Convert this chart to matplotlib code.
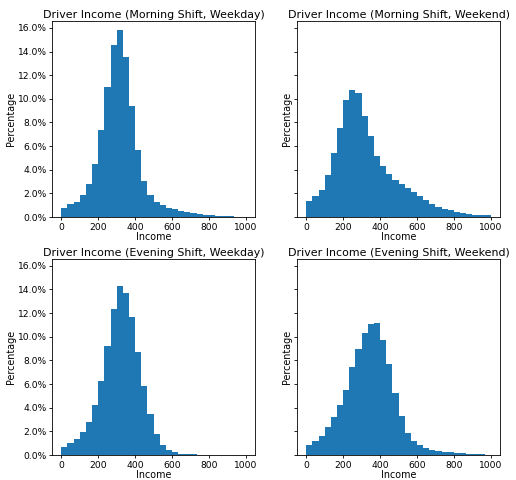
import numpy as np
import matplotlib
matplotlib.use("Agg")
from matplotlib import pyplot as plt
from matplotlib.ticker import PercentFormatter

# 30 bins of equal width from 0 to 1000
bin_edges = np.linspace(0, 1000, 31)

# percentage of drivers in each bin
morning_weekday = [0.81, 1.09, 1.28, 1.84, 2.84, 4.52, 7.36, 11.04, 14.55, 15.78,
                   13.55, 9.37, 5.69, 3.07, 1.84, 1.28, 1.00, 0.81, 0.67, 0.53,
                   0.42, 0.33, 0.25, 0.20, 0.14, 0.10, 0.08, 0.07, 0.05, 0.02]
morning_weekend = [1.33, 1.80, 2.33, 3.53, 5.39, 7.53, 9.92, 10.75, 10.53, 8.58,
                   6.86, 5.17, 4.36, 3.64, 3.11, 2.83, 2.42, 2.14, 1.75, 1.42,
                   1.11, 0.86, 0.67, 0.56, 0.44, 0.31, 0.28, 0.22, 0.17, 0.14]
evening_weekday = [0.64, 1.06, 1.34, 1.99, 2.80, 4.20, 6.24, 9.26, 12.34, 14.27,
                   13.68, 11.64, 8.70, 5.82, 3.44, 1.82, 0.87, 0.42, 0.25, 0.11,
                   0.08, 0.06, 0.04, 0.04, 0.03, 0.03, 0.02, 0.01, 0.0, 0.0]
evening_weekend = [0.81, 1.22, 1.61, 2.33, 3.22, 4.22, 5.53, 7.44, 8.97, 10.28,
                   11.06, 11.19, 9.72, 7.67, 5.25, 3.28, 1.89, 1.19, 0.81, 0.56,
                   0.42, 0.33, 0.28, 0.22, 0.17, 0.14, 0.11, 0.08, 0.06, 0.03]

titles = ["Driver Income (Morning Shift, Weekday)",
          "Driver Income (Morning Shift, Weekend)",
          "Driver Income (Evening Shift, Weekday)",
          "Driver Income (Evening Shift, Weekend)"]
series = [morning_weekday, morning_weekend, evening_weekday, evening_weekend]

fig, axes = plt.subplots(2, 2, sharey=True, figsize=(5.16, 4.8), dpi=100)
plt.subplots_adjust(left=0.101, right=0.969, top=0.956, bottom=0.052,
                    wspace=0.207, hspace=0.214)

for ax, title, vals in zip(axes.flat, titles, series):
    ax.hist(bin_edges[:-1], bins=bin_edges, weights=vals, color="#1f77b4")
    ax.set_title(title, fontsize=7.9, pad=2)
    ax.set_xlabel("Income", fontsize=6.9, labelpad=0.5)
    ax.set_ylabel("Percentage", fontsize=6.9, labelpad=1)
    ax.yaxis.set_major_formatter(PercentFormatter(100, decimals=1))
    ax.tick_params(labelsize=6.6, length=2.5, width=0.6, pad=1.5)
    for s in ax.spines.values():
        s.set_linewidth(0.6)
    ax.set_xticks([0, 200, 400, 600, 800, 1000])

fig.savefig("out.png", dpi=100)
